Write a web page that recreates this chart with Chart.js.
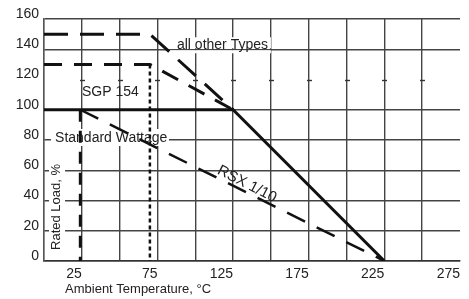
<!DOCTYPE html>
<html><head><meta charset="utf-8">
<script src="https://cdn.jsdelivr.net/npm/chart.js@4.4.0/dist/chart.umd.min.js"></script>
<style>html,body{margin:0;padding:0;background:#fff;}canvas{display:block;}</style>
</head><body>
<canvas id="c" width="469" height="299"></canvas>
<script>
const FONT = '"Liberation Sans", Arial, sans-serif';
// tick labels
const xTickLabels = [25, 75, 125, 175, 225, 275];
const xGridValues = [0, 25, 50, 75, 100, 125, 150, 175, 200, 225, 250];
const yTickLabels = [0, 20, 40, 60, 80, 100, 120, 140, 160];
const yGridValues = [0, 20, 40, 60, 80, 100, 140, 160];
// series (ambient temperature °C, rated load %)
const stdTemp = [0, 125, 225];        const stdLoad = [100, 100, 0];      // Standard Wattage
const otherTemp = [0, 70, 125];       const otherLoad = [150, 150, 100];  // all other Types
const sgpTemp = [0, 70, 125];         const sgpLoad = [130, 130, 100];    // SGP 154
const sgpCutTemp = [70, 70];          const sgpCutLoad = [130, 0];
const rsxTemp = [24, 225];            const rsxLoad = [100, 0];           // RSX 1/10
const rsxCutTemp = [24, 24];          const rsxCutLoad = [100, 0];

function pts(xs, ys) { return xs.map((x, i) => ({ x: x, y: ys[i] })); }

const annotations = {
  id: 'annotations',
  beforeDatasetsDraw(chart) {
    const ctx = chart.ctx, xs = chart.scales.x, ys = chart.scales.y;
    const X = v => xs.getPixelForValue(v), Y = v => ys.getPixelForValue(v);
    ctx.save();
    // small marks on the 120 row where vertical lines cross
    ctx.strokeStyle = '#333'; ctx.lineWidth = 1.4;
    for (let t = 25; t <= 250; t += 25) {
      const px = Math.round(X(t)), py = Math.round(Y(120)) + 0.5;
      ctx.beginPath(); ctx.moveTo(px - 2, py); ctx.lineTo(px + 3, py); ctx.stroke();
    }
    ctx.fillStyle = '#fff';
    // white backgrounds behind labels
    ctx.fillRect(X(81.3), Y(140) - 12, X(150) - X(81.3), 11);
    ctx.fillRect(X(81.3), Y(140) + 1, X(150) - X(81.3), 3);
    ctx.fillRect(X(4.6), Y(80) - 11, X(82.6) - X(4.6), 17);
    ctx.fillRect(X(3.3), Y(63.6), X(13.9) - X(3.3), Y(6) - Y(63.6));
    ctx.fillStyle = '#222';
    ctx.textBaseline = 'alphabetic'; ctx.textAlign = 'left';
    ctx.font = '14px ' + FONT;
    ctx.fillText('all other Types', X(87.9), Y(140) - 0.5);
    ctx.fillText('SGP 154', X(25.1), Y(109));
    ctx.fillText('Standard Wattage', X(7.3), Y(79));
    ctx.save();
    ctx.font = '13px ' + FONT;
    ctx.translate(X(10.6), Y(7.3)); ctx.rotate(-Math.PI / 2);
    ctx.fillText('Rated Load, %', 0, 0);
    ctx.restore();
    ctx.save();
    ctx.font = '15px ' + FONT;
    ctx.translate(X(114), Y(58)); ctx.rotate(27 * Math.PI / 180);
    ctx.fillText('RSX 1/10', 0, 0);
    ctx.restore();
    ctx.font = '13px ' + FONT;
    ctx.fillText('Ambient Temperature, °C', X(13.9), chart.chartArea.bottom + 32);
    ctx.restore();
  }
};

const base = { fill: false, pointRadius: 0, borderColor: '#111', tension: 0, borderCapStyle: 'butt' };

new Chart(document.getElementById('c'), {
  type: 'line',
  data: {
    datasets: [
      Object.assign({}, base, { label: 'Standard Wattage', data: pts(stdTemp, stdLoad), borderWidth: 3 }),
      Object.assign({}, base, { label: 'all other Types', data: pts(otherTemp, otherLoad), borderWidth: 3, borderDash: [24, 12] }),
      Object.assign({}, base, { label: 'SGP 154', data: pts(sgpTemp, sgpLoad), borderWidth: 3, borderDash: [18, 12] }),
      Object.assign({}, base, { label: 'SGP 154 limit', data: pts(sgpCutTemp, sgpCutLoad), borderWidth: 2.5, borderDash: [4, 3] }),
      Object.assign({}, base, { label: 'RSX 1/10', data: pts(rsxTemp, rsxLoad), borderWidth: 2.5, borderDash: [20, 13] }),
      Object.assign({}, base, { label: 'RSX 1/10 limit', data: pts(rsxCutTemp, rsxCutLoad), borderWidth: 3, borderDash: [12, 9] })
    ]
  },
  options: {
    responsive: false, animation: false, devicePixelRatio: 1,
    layout: { padding: { top: 19, right: 9, left: 0, bottom: 0 } },
    plugins: { legend: { display: false }, tooltip: { enabled: false } },
    scales: {
      // grid-line axes
      x: {
        type: 'linear', position: 'bottom', weight: 0, min: 0, max: 275,
        afterFit(s) { s.height = 0; },
        afterBuildTicks(s) { s.ticks = xGridValues.map(v => ({ value: v })); },
        border: { color: '#333', width: 1.4 },
        grid: { drawTicks: false, lineWidth: 1.4, color: '#444' },
        ticks: { display: false }
      },
      y: {
        type: 'linear', position: 'left', weight: 0, min: 0, max: 160,
        afterFit(s) { s.width = 0; },
        afterBuildTicks(s) { s.ticks = yGridValues.map(v => ({ value: v })); },
        border: { color: '#555', width: 1.4 },
        grid: { drawTicks: false, lineWidth: 1.4, color: '#444' },
        ticks: { display: false }
      },
      // label axes
      x2: {
        type: 'linear', position: 'bottom', weight: 1, min: 0, max: 275,
        afterFit(s) { s.height = 38; },
        afterBuildTicks(s) { s.ticks = xTickLabels.map(v => ({ value: v })); },
        border: { display: false },
        grid: { display: false, drawTicks: false },
        ticks: { padding: 5, align: 'end', color: '#222', maxRotation: 0, autoSkip: false,
          font: { family: FONT, size: 14 } }
      },
      y2: {
        type: 'linear', position: 'left', weight: 1, min: 0, max: 160,
        afterFit(s) { s.width = 44; },
        afterBuildTicks(s) { s.ticks = yTickLabels.map(v => ({ value: v })); },
        border: { display: false },
        grid: { display: false, drawTicks: false },
        ticks: { padding: 5, labelOffset: -5, color: '#222', autoSkip: false,
          font: { family: FONT, size: 14 } }
      }
    }
  },
  plugins: [annotations]
});
</script>
</body></html>
